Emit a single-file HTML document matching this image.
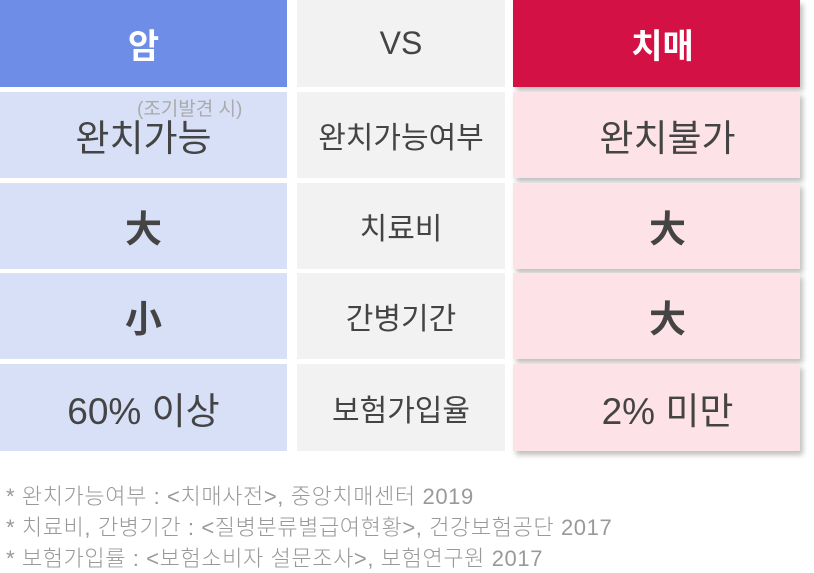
<!DOCTYPE html>
<html><head><meta charset="utf-8">
<style>
body{margin:0;width:814px;height:570px;background:#fff;overflow:hidden;font-family:"Liberation Sans","Noto Sans CJK KR",sans-serif;}
.c{position:absolute;display:flex;align-items:center;justify-content:center;color:#444;box-sizing:border-box;}
.l{left:0;width:287px;background:#d8e0f7;font-size:37px;}
.m{left:297px;width:208px;background:#f2f2f2;font-size:30px;}
.r{left:513px;width:287px;background:#fde2e7;font-size:37px;box-shadow:3px 4px 5px rgba(0,0,0,0.25);padding-left:22px;}
.h{top:0;height:87px;font-weight:bold;}
.b{font-weight:bold;}
.note{position:absolute;left:6px;font-size:22px;color:#999;letter-spacing:0.6px;font-weight:300;}
</style></head><body>
<div class="c l h" style="background:#6d8de6;color:#fff;font-size:34px">암</div>
<div class="c m h" style="font-weight:normal;font-size:32px">VS</div>
<div class="c r h" style="background:#d31144;color:#fff;font-size:34px;padding-left:12px">치매</div>

<div class="c l" style="top:92px;height:86px">완치가능<span style="position:absolute;left:137px;top:2px;font-size:19px;color:#aaa">(조기발견 시)</span></div>
<div class="c m" style="top:92px;height:86px">완치가능여부</div>
<div class="c r" style="top:92px;height:86px">완치불가</div>

<div class="c l b" style="top:183px;height:86px">大</div>
<div class="c m" style="top:183px;height:86px">치료비</div>
<div class="c r b" style="top:183px;height:86px">大</div>

<div class="c l b" style="top:273px;height:86px">小</div>
<div class="c m" style="top:273px;height:86px">간병기간</div>
<div class="c r b" style="top:273px;height:86px">大</div>

<div class="c l" style="top:364px;height:87px">60% 이상</div>
<div class="c m" style="top:364px;height:87px">보험가입율</div>
<div class="c r" style="top:364px;height:87px">2% 미만</div>

<div class="note" style="top:479px">* 완치가능여부 : &lt;치매사전&gt;, 중앙치매센터 2019</div>
<div class="note" style="top:510px">* 치료비, 간병기간 : &lt;질병분류별급여현황&gt;, 건강보험공단 2017</div>
<div class="note" style="top:541px">* 보험가입률 : &lt;보험소비자 설문조사&gt;, 보험연구원 2017</div>
</body></html>
